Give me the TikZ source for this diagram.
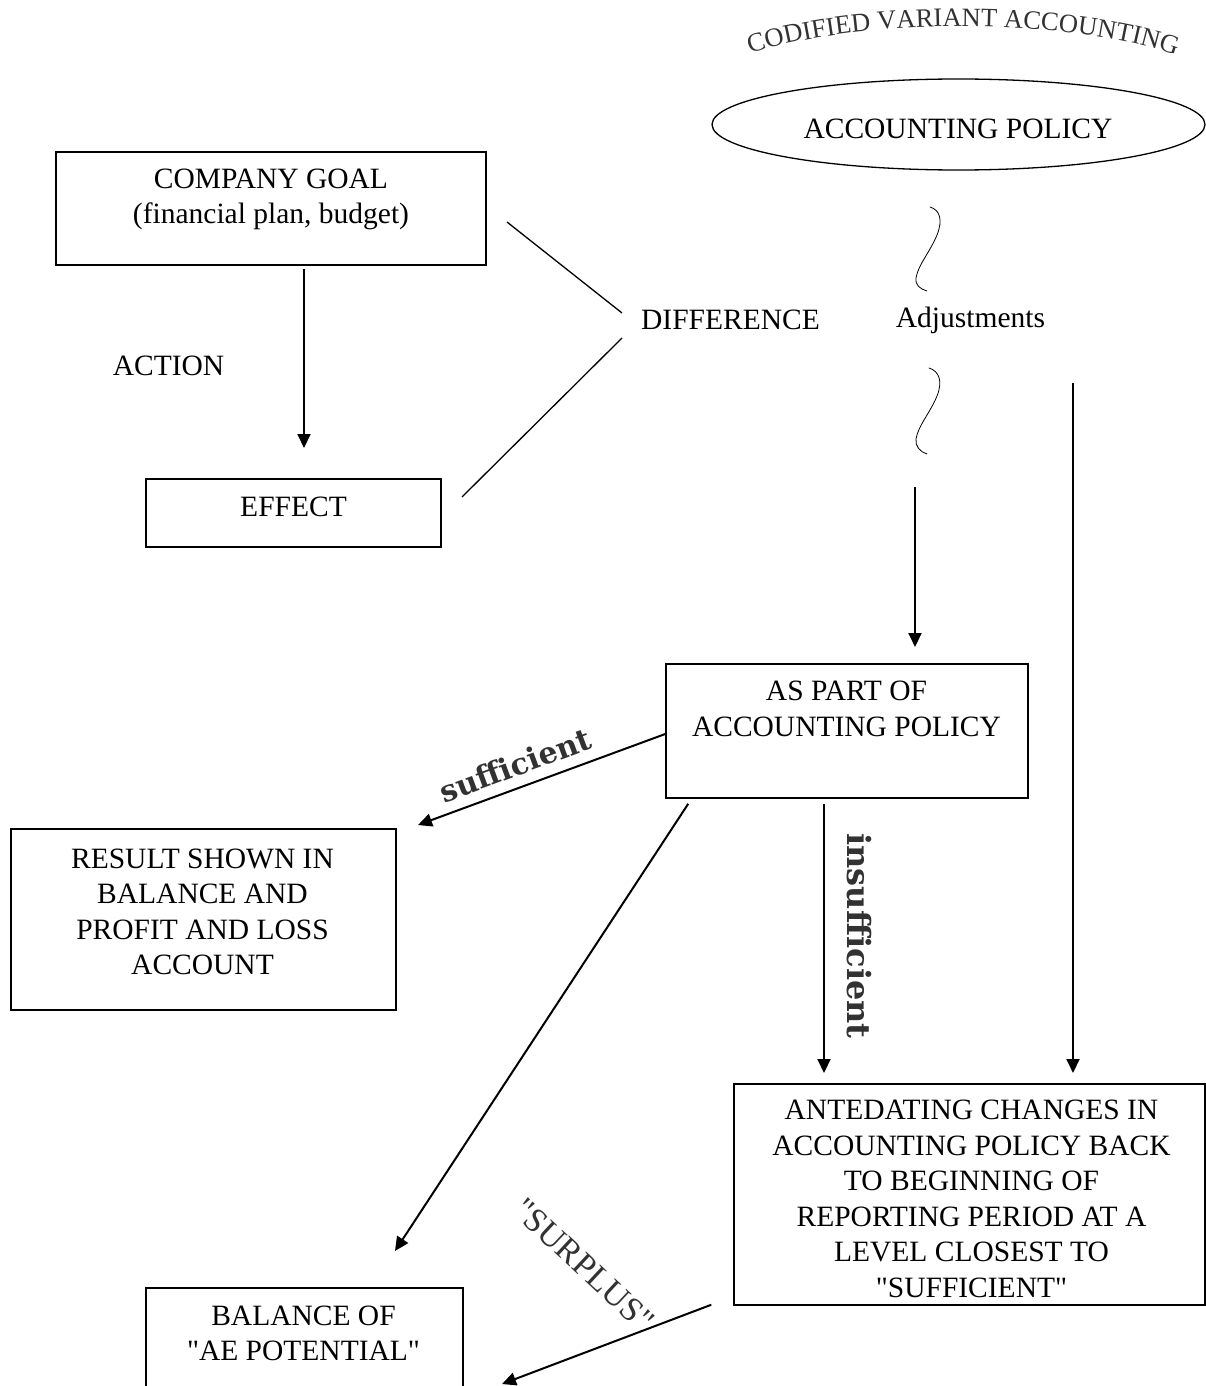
\documentclass[tikz,border=0pt]{standalone}
\usepackage{fontspec}
\setmainfont{Liberation Serif}[Ligatures=TeXOff]
\newfontfamily\wafont{DejaVu Serif}
\usetikzlibrary{arrows.meta,shapes.geometric,decorations.text}
\definecolor{wordgray}{RGB}{50,50,50}
\begin{document}
\begin{tikzpicture}[x=1pt,y=-1pt,
  box/.style={draw, line width=1.5pt, rectangle, inner sep=0pt},
  txt/.style={align=center, inner sep=0pt, font=\fontsize{29.5}{35.5}\selectfont},
  arr/.style={line width=2pt, -{Triangle[length=14pt,width=13pt]}},
  diffline/.style={line width=1.3pt},
  squig/.style={line width=0.8pt, line cap=round},
  walabel/.style={inner sep=0pt, text=wordgray}
]
\useasboundingbox (0,0) rectangle (1206,1386);

% arc title
\path[decorate, decoration={text along path,
  text={|\fontsize{26.5}{30}\selectfont|CODIFIED VARIANT ACCOUNTING},
  text align=center, text color=wordgray}]
  (750,54) .. controls (860,17) and (1066,17) .. (1176,55);

% ellipse
\node[draw, ellipse, line width=1.3pt, minimum width=493pt, minimum height=91pt, inner sep=0pt] (policy) at (958.5,124.5) {};
\node[txt] (policytxt) at (958,129) {ACCOUNTING POLICY};

% boxes
\node[box, minimum width=430pt, minimum height=113pt] (goal) at (271,208.5) {};
\node[txt] (goaltxt) at (271,199.5) {COMPANY GOAL\\(financial plan, budget)};

\node[box, minimum width=295pt, minimum height=68pt] (effect) at (293.5,513) {};
\node[txt] (effecttxt) at (293.5,506.5) {EFFECT};

\node[box, minimum width=362pt, minimum height=134pt] (aspart) at (847,731) {};
\node[txt] (asparttxt) at (846.5,709) {AS PART OF\\ACCOUNTING POLICY};

\node[box, minimum width=385pt, minimum height=181pt] (result) at (203.5,919.5) {};
\node[txt] (resulttxt) at (202.5,912) {RESULT SHOWN IN\\BALANCE AND\\PROFIT AND LOSS\\ACCOUNT};

\node[box, minimum width=471pt, minimum height=221pt] (ante) at (969.5,1194.5) {};
\node[txt] (antetxt) at (971.5,1199) {ANTEDATING CHANGES IN\\ACCOUNTING POLICY BACK\\TO BEGINNING OF\\REPORTING PERIOD AT A\\LEVEL CLOSEST TO\\"SUFFICIENT"};

\node[box, minimum width=317pt, minimum height=112pt] (bal) at (304.5,1344) {};
\node[txt] (baltxt) at (303.5,1333.3) {BALANCE OF\\"AE POTENTIAL"};

% labels
\node[txt] (action) at (168.5,366) {ACTION};
\node[txt] (diff) at (730.5,320) {DIFFERENCE};
\node[txt] (adj) at (970.5,320) {Adjustments};

\node[walabel, rotate=20.3, font=\wafont\bfseries\fontsize{30}{36}\selectfont] (suff) at (515,765) {sufficient};
\node[walabel, rotate=-90, font=\wafont\bfseries\fontsize{32}{38}\selectfont] (insuff) at (859,936) {insufficient};
\node[walabel, rotate=-43, font=\fontsize{34}{38}\selectfont] (surplus) at (584,1265) {"SURPLUS"};

% squiggles
\draw[squig] (930,207) .. controls (940,210) and (943,220) .. (937,235)
  .. controls (930,252) and (918,265) .. (916,278)
  .. controls (915,285) and (920,289) .. (927,291);
\draw[squig] (929,368) .. controls (939,371) and (943,381) .. (937,396)
  .. controls (930,413) and (918,426) .. (916,439)
  .. controls (915,446) and (920,452) .. (927,454);

% coordinates
\coordinate (goalEnd) at (304,448);
\coordinate (dA1) at (507,222);
\coordinate (dA2) at (622,313);
\coordinate (dB1) at (622,338);
\coordinate (dB2) at (462,497);
\coordinate (midTop) at (915,487);
\coordinate (midEnd) at (915,647);
\coordinate (rightTop) at (1073,383);
\coordinate (rightEnd) at (1073,1073);
\coordinate (suffEnd) at (418,825);
\coordinate (diagEnd) at (395,1251);
\coordinate (insuffEnd) at (824,1073);
\coordinate (surpEnd) at (502,1384);

% connectors
\draw[arr] ([xshift=33pt,yshift=-3pt]goal.south) -- (goalEnd);
\draw[diffline] (dA1) -- (dA2);
\draw[diffline] (dB1) -- (dB2);
\draw[arr] (midTop) -- (midEnd);
\draw[arr] (rightTop) -- (rightEnd);
\draw[arr] ([yshift=-3pt]aspart.west) -- (suffEnd);
\draw[arr] ([xshift=23pt,yshift=-5pt]aspart.south west) -- (diagEnd);
\draw[arr] ([xshift=-23pt,yshift=-5pt]aspart.south) -- (insuffEnd);
\draw[arr] ([xshift=-22pt,yshift=1pt]ante.south west) -- (surpEnd);
\end{tikzpicture}
\end{document}
